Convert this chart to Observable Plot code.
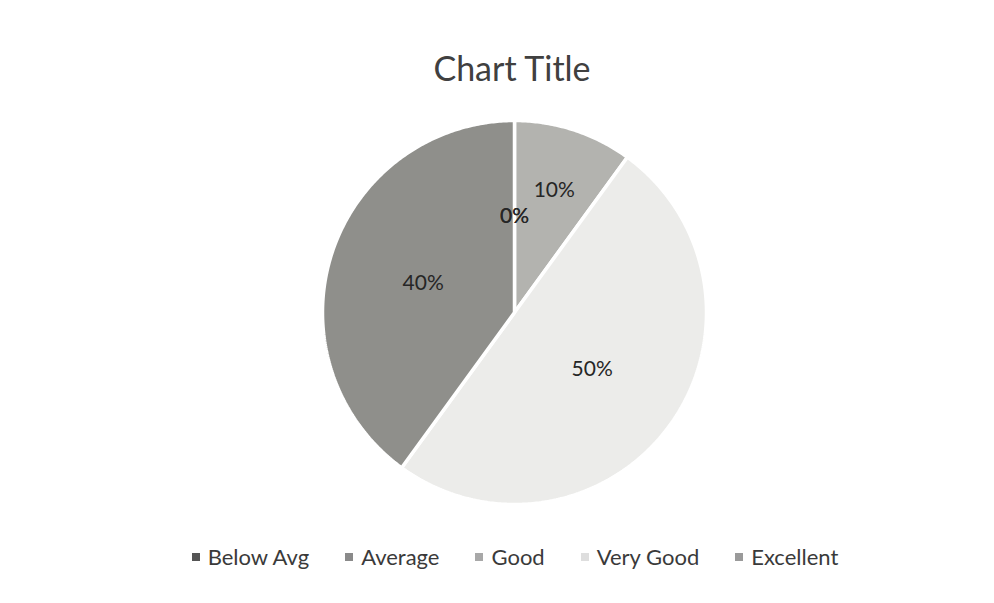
<!DOCTYPE html>
<html>
<head>
<meta charset="utf-8">
<script src="https://cdn.jsdelivr.net/npm/d3@7"></script>
<script src="https://cdn.jsdelivr.net/npm/@observablehq/plot@0.6"></script>
<style>
  html, body { margin: 0; padding: 0; background: #ffffff; }
  body { width: 994px; height: 603px; overflow: hidden; font-family: Lato, "Open Sans", sans-serif; }
  #title { height: 100px; box-sizing: border-box; padding-top: 48px; line-height: 40px; text-align: center; font-size: 34px; color: #404040; padding-left: 30px; }
  #legend { display: flex; justify-content: center; align-items: center; gap: 36px; margin-top: 23px; line-height: 28px; font-size: 22px; color: #3a3a3a; padding-left: 36px; }
  .item { display: flex; align-items: center; gap: 8px; }
  .sw { width: 8px; height: 8px; display: inline-block; }
</style>
</head>
<body>
<div id="title">Chart Title</div>
<div id="chart"></div>
<div id="legend"></div>
<script>
const categories = ["Below Avg", "Average", "Good", "Very Good", "Excellent"];
const values = [0, 0, 10, 50, 40];
const labels = ["0%", "0%", "10%", "50%", "40%"];
const sliceColors = ["#5a5a5a", "#8e8e8e", "#b3b3af", "#ececea", "#8f8f8b"];
const legendColors = ["#555555", "#8a8a8a", "#a8a8a8", "#dedede", "#9a9a9a"];

const pie = d3.pie().sort(null).value(d => d)(values);

// slice outlines in unit coordinates (angle 0 = 12 o'clock, clockwise)
const polys = [];
pie.forEach((p, i) => {
  if (values[i] <= 0) return;
  const n = Math.max(2, Math.ceil((p.endAngle - p.startAngle) / 0.01));
  polys.push({cat: categories[i], x: 0, y: 0});
  for (let j = 0; j <= n; j++) {
    const a = p.startAngle + (p.endAngle - p.startAngle) * j / n;
    polys.push({cat: categories[i], x: Math.sin(a), y: Math.cos(a)});
  }
  polys.push({cat: categories[i], x: 0, y: 0});
});

// label positions with simple collision nudge
const placed = [];
const labelData = pie.map((p, i) => {
  const mid = (p.startAngle + p.endAngle) / 2;
  let r = 0.5;
  let x = r * Math.sin(mid), y = r * Math.cos(mid);
  for (const q of placed) {
    if (q.text !== labels[i] && Math.hypot(q.x - x, q.y - y) < 0.3) {
      r = 0.67; x = r * Math.sin(mid); y = r * Math.cos(mid);
    }
  }
  const d = {x, y, text: labels[i]};
  placed.push(d);
  return d;
});

const R = 192, cx = 514, cy = 212, H = 420;
const chart = Plot.plot({
  width: 994,
  height: H,
  margin: 0,
  x: {domain: [-1, 1], range: [cx - R, cx + R], axis: null},
  y: {domain: [-1, 1], range: [cy + R, cy - R], axis: null},
  color: {domain: categories, range: sliceColors},
  marks: [
    Plot.line(polys, {x: "x", y: "y", z: "cat", fill: "cat", stroke: "#ffffff", strokeWidth: 3.5, strokeLinejoin: "miter", curve: "linear"}),
    Plot.text(labelData, {x: "x", y: "y", text: "text", fontSize: 21, fill: "#262626", fontFamily: "Lato, 'Open Sans', sans-serif"})
  ]
});
document.getElementById("chart").appendChild(chart);

const legend = document.getElementById("legend");
categories.forEach((c, i) => {
  const it = document.createElement("div");
  it.className = "item";
  const sw = document.createElement("span");
  sw.className = "sw";
  sw.style.background = legendColors[i];
  const t = document.createElement("span");
  t.textContent = c;
  it.appendChild(sw); it.appendChild(t);
  legend.appendChild(it);
});
</script>
</body>
</html>
